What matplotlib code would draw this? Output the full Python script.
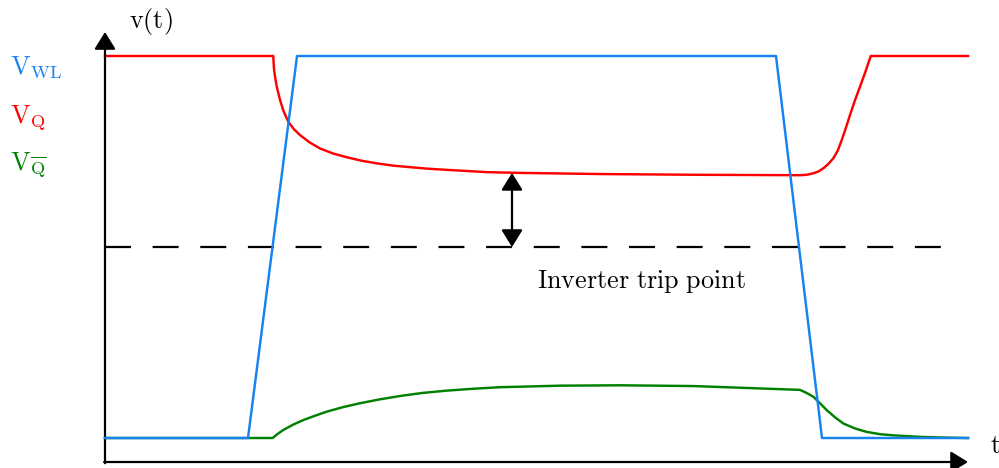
import matplotlib
matplotlib.use("Agg")
import matplotlib.pyplot as plt

plt.rcParams["mathtext.fontset"] = "cm"
plt.rcParams["lines.scale_dashes"] = False

# Time axis in arbitrary units (0 .. 10), voltage normalised to VDD = 1
t_end = 10.0
v_trip = 0.5

# Word-line voltage
t_wl = [0.0, 1.657, 2.225, 7.775, 8.308, 10.0]
v_wl = [0.0, 0.0, 1.0, 1.0, 0.0, 0.0]

# Storage node Q
t_q = [0.0, 1.950, 1.953, 1.958, 1.970, 1.990, 2.028, 2.070, 2.124, 2.190,
       2.260, 2.370, 2.491, 2.640, 2.801, 2.970, 3.148, 3.340, 3.534, 3.740,
       3.959, 4.190, 4.423, 4.809, 5.736, 6.895, 8.053, 8.130, 8.208, 8.270,
       8.323, 8.380, 8.439, 8.490, 8.537, 8.585, 8.633, 8.690, 8.749, 8.810,
       8.873, 10.0]
v_q = [1.0, 1.0, 0.985, 0.967, 0.946, 0.920, 0.885, 0.855, 0.828, 0.808,
       0.793, 0.774, 0.758, 0.745, 0.735, 0.726, 0.719, 0.713, 0.709, 0.705,
       0.702, 0.699, 0.696, 0.694, 0.691, 0.689, 0.688, 0.689, 0.693, 0.698,
       0.706, 0.717, 0.732, 0.752, 0.780, 0.812, 0.846, 0.884, 0.920, 0.958,
       1.0, 1.0]

# Complementary node Q-bar
t_qb = [0.0, 1.943, 1.990, 2.066, 2.180, 2.298, 2.430, 2.569, 2.760, 2.955,
        3.180, 3.418, 3.680, 3.959, 4.270, 4.577, 4.920, 5.272, 5.968, 6.400,
        6.817, 7.436, 8.053, 8.130, 8.208, 8.285, 8.363, 8.460, 8.555, 8.690,
        8.826, 8.980, 9.134, 9.444, 9.750, 10.0]
v_qb = [0.0, 0.0, 0.009, 0.021, 0.035, 0.047, 0.058, 0.069, 0.081, 0.091,
        0.101, 0.110, 0.118, 0.124, 0.129, 0.133, 0.135, 0.137, 0.138, 0.137,
        0.136, 0.131, 0.126, 0.118, 0.108, 0.091, 0.073, 0.054, 0.038, 0.025,
        0.016, 0.010, 0.007, 0.003, 0.001, 0.0]

t_margin = 4.716  # where the read margin is marked
v_margin = 0.694

c_wl = "#1683f0"
c_q = "#ff0000"
c_qb = "#008000"

fig = plt.figure(figsize=(9.99, 4.68), dpi=100)
ax = fig.add_axes([0, 0, 1, 1])
ax.set_xlim(-1.2167, 10.359)
ax.set_ylim(-0.0785, 1.1466)
ax.axis("off")

lw = 1.75
ax.plot(t_qb, v_qb, color=c_qb, lw=lw, zorder=3)
ax.plot(t_q, v_q, color=c_q, lw=lw, zorder=3)
ax.plot(t_wl, v_wl, color=c_wl, lw=lw, zorder=4)

# Inverter trip point
ax.plot([0.0, 9.73], [v_trip, v_trip], color="black", lw=1.6,
        dashes=(18.7, 15.6), zorder=2)

arrow_style = "-|>,head_length=1.05,head_width=0.65"
axis_props = dict(arrowstyle=arrow_style, lw=1.6, color="black",
                  shrinkA=0, shrinkB=0, mutation_scale=10)
# Axes with arrow heads
ax.annotate("", xy=(0.0, 1.0628), xytext=(0.0, -0.066), arrowprops=axis_props)
ax.annotate("", xy=(t_end, -0.0628), xytext=(-0.01, -0.0628), arrowprops=axis_props)

# Margin between Q and the trip point
ax.annotate("", xy=(t_margin, v_margin), xytext=(t_margin, v_trip),
            arrowprops=dict(arrowstyle="<|-|>,head_length=1.05,head_width=0.65",
                            lw=1.6, color="black", shrinkA=0, shrinkB=0,
                            mutation_scale=10))

fs = 18.8
ax.text(0.278, 1.073, r"$\mathrm{v(t)}$", fontsize=fs, ha="left", va="baseline")
ax.text(10.255, -0.039, r"$\mathrm{t}$", fontsize=fs, ha="left", va="baseline")
ax.text(5.002, 0.393, r"$\mathrm{Inverter\ trip\ point}$", fontsize=fs,
        ha="left", va="baseline")

ax.text(-1.101, 0.953, r"$\mathrm{V}_{\mathrm{WL}}$", fontsize=fs, color=c_wl,
        ha="left", va="baseline")
ax.text(-1.101, 0.825, r"$\mathrm{V}_{\mathrm{Q}}$", fontsize=fs, color=c_q,
        ha="left", va="baseline")
ax.text(-1.101, 0.702, r"$\mathrm{V}_{\overline{\mathrm{Q}}}$", fontsize=fs,
        color=c_qb, ha="left", va="baseline")

fig.savefig("out.png", dpi=100)
